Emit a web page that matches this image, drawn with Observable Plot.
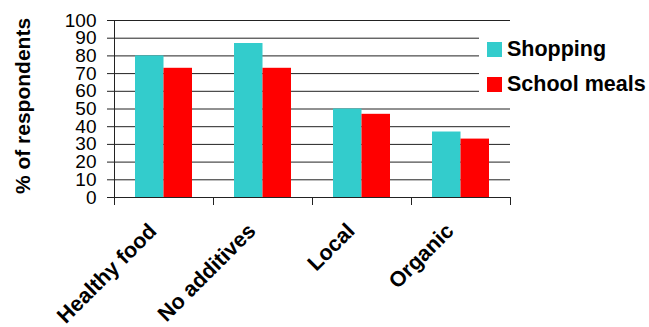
<!DOCTYPE html>
<html>
<head>
<meta charset="utf-8">
<script src="https://cdn.jsdelivr.net/npm/d3@7"></script>
<script src="https://cdn.jsdelivr.net/npm/@observablehq/plot@0.6"></script>
<style>
  body { margin: 0; background: #fff; font-family: "Liberation Sans", Arial, sans-serif; }
  #chart { position: relative; width: 649px; height: 327px; overflow: hidden; }
  #chart svg { display: block; }
  .legend { position: absolute; left: 479px; top: 28px; width: 170px; height: 74px; background: #fff; }
  .item { position: absolute; left: 8px; display: flex; align-items: center; font-weight: bold; font-size: 21.5px; color: #000; white-space: nowrap; }
  .sw { width: 15px; height: 15px; margin-right: 5px; flex: none; }
</style>
</head>
<body>
<div id="chart"></div>
<script>
// Share of respondents choosing each food attribute, by context
const categories = ["Healthy food", "No additives", "Local", "Organic"];
const series = ["Shopping", "School meals"];
const shopping = [80, 87, 50, 37];
const schoolMeals = [73, 73, 47, 33];
const yTicks = [0, 10, 20, 30, 40, 50, 60, 70, 80, 90, 100];
const colors = ["#33CCCC", "#FF0000"];

const rows = categories.flatMap((c, i) => [
  {category: c, series: series[0], value: shopping[i]},
  {category: c, series: series[1], value: schoolMeals[i]}
]);

const W = 649, H = 327;
const M = {top: 20, right: 139, bottom: 130, left: 114};
const plotH = H - M.top - M.bottom;

const chart = Plot.plot({
  width: W,
  height: H,
  marginTop: M.top,
  marginRight: M.right,
  marginBottom: M.bottom,
  marginLeft: M.left,
  style: {fontFamily: "'Liberation Sans', Arial, sans-serif", color: "#000", background: "#fff"},
  fx: {domain: categories, padding: 0, label: null, axis: null},
  x: {domain: series, paddingInner: 0, paddingOuter: 0.737, axis: null, round: false},
  y: {domain: [0, 100], label: null, axis: null},
  color: {domain: series, range: colors},
  marks: [
    Plot.gridY(yTicks, {stroke: "#222", strokeOpacity: 1}),
    Plot.barY(rows, {fx: "category", x: "series", y: "value", fill: "series"}),
    // vertical axis line and category boundary ticks
    Plot.frame({anchor: "left", facetAnchor: "left", stroke: "#222"}),
    Plot.frame({anchor: "left", stroke: "#222", insetTop: plotH, insetBottom: -7}),
    Plot.frame({anchor: "right", facetAnchor: "right", stroke: "#222", insetTop: plotH, insetBottom: -7}),
    Plot.axisY(yTicks, {tickSize: 7, tickPadding: 11, fontSize: 19, stroke: "#222", tickFormat: d => d}),
    Plot.axisFx({anchor: "bottom", tickSize: 0, tickRotate: -45, tickPadding: 22, dx: -11, dy: 8, fontSize: 21.5, fontWeight: "bold", label: null})
  ]
});

const root = document.getElementById("chart");
root.appendChild(chart);

// Legend
const legend = document.createElement("div");
legend.className = "legend";
series.forEach((s, i) => {
  const item = document.createElement("div");
  item.className = "item";
  item.style.top = (9 + i * 35) + "px";
  const sw = document.createElement("span");
  sw.className = "sw";
  sw.style.background = colors[i];
  const label = document.createElement("span");
  label.textContent = s;
  item.append(sw, label);
  legend.appendChild(item);
});
root.appendChild(legend);

// Axis title
const title = document.createElement("div");
title.textContent = "% of respondents";
Object.assign(title.style, {
  position: "absolute", left: "23px", top: "106px",
  transform: "translate(-50%, -50%) rotate(-90deg)",
  fontWeight: "bold", fontSize: "21px", whiteSpace: "nowrap", color: "#000"
});
root.appendChild(title);
</script>
</body>
</html>
